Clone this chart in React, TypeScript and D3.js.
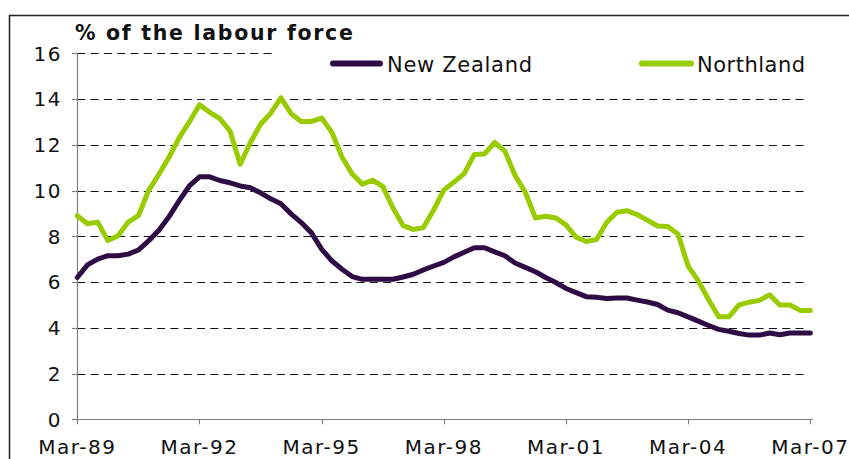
import React from "react";
import * as d3 from "d3";

const periods: string[] = Array.from({ length: 73 }, (_, i) => {
  const year = 1989 + Math.floor(i / 4);
  const m = ["Mar", "Jun", "Sep", "Dec"][i % 4];
  return `${m}-${String(year % 100).padStart(2, "0")}`;
});

const tickLabels = ["Mar-89", "Mar-92", "Mar-95", "Mar-98", "Mar-01", "Mar-04", "Mar-07"];
const yTicks = [0, 2, 4, 6, 8, 10, 12, 14, 16];

const newZealand = [
  6.2, 6.75, 7.0, 7.15, 7.15, 7.22, 7.4, 7.8, 8.25, 8.85, 9.55, 10.2, 10.6,
  10.6, 10.44, 10.34, 10.2, 10.12, 9.9, 9.64, 9.42, 8.98, 8.6, 8.15, 7.44,
  6.93, 6.56, 6.24, 6.12, 6.12, 6.12, 6.12, 6.22, 6.34, 6.53, 6.7, 6.86,
  7.1, 7.3, 7.5, 7.5, 7.32, 7.15, 6.83, 6.64, 6.45, 6.2, 5.98, 5.72, 5.54,
  5.36, 5.34, 5.28, 5.3, 5.3, 5.21, 5.13, 5.02, 4.77, 4.66, 4.48, 4.29, 4.1,
  3.93, 3.85, 3.75, 3.68, 3.68, 3.77, 3.7, 3.77, 3.77, 3.77,
];

const northland = [
  8.9, 8.55, 8.62, 7.82, 8.02, 8.62, 8.9, 10.0, 10.7, 11.45, 12.3, 13.0,
  13.75, 13.42, 13.15, 12.6, 11.15, 12.1, 12.9, 13.38, 14.05, 13.36, 13.02,
  13.02, 13.17, 12.55, 11.47, 10.72, 10.28, 10.45, 10.18, 9.25, 8.47, 8.3,
  8.38, 9.15, 10.02, 10.37, 10.74, 11.58, 11.6, 12.1, 11.72, 10.66, 9.93,
  8.8, 8.88, 8.8, 8.5, 7.96, 7.77, 7.86, 8.6, 9.05, 9.12, 8.95, 8.7, 8.45,
  8.43, 8.1, 6.7, 6.05, 5.24, 4.48, 4.48, 5.0, 5.12, 5.2, 5.44, 5.0, 5.0,
  4.76, 4.76,
];

const W = 849;
const H = 459;
const font = "'DejaVu Sans', Verdana, sans-serif";

export default function App() {
  const x = d3.scaleLinear().domain([0, periods.length - 1]).range([77.3, 810.3]);
  const y = d3.scaleLinear().domain([0, 16]).range([419.3, 53.3]);

  const line = d3
    .line<number>()
    .x((_, i) => x(i))
    .y((d) => y(d));

  const axisColor = "#808080";
  const nzColor = "#2f0b45";
  const nlColor = "#99cc00";

  return (
    <svg
      width={W}
      height={H}
      viewBox={`0 0 ${W} ${H}`}
      style={{ position: "absolute", left: 0, top: 0, background: "#fff" }}
    >
      <rect x={0} y={0} width={W} height={H} fill="#fff" />
      {/* outer frame */}
      <rect x={9.5} y={15.5} width={W + 20} height={H + 20} fill="none" stroke="#222" strokeWidth={1.5} />

      {/* gridlines */}
      {yTicks
        .filter((t) => t > 0)
        .map((t) => (
          <line
            key={`g${t}`}
            x1={x(0)}
            x2={808}
            y1={Math.round(y(t)) + 0.5}
            y2={Math.round(y(t)) + 0.5}
            stroke="#111"
            strokeWidth={1}
            strokeDasharray="8 5.3"
          />
        ))}

      {/* legend background */}
      <rect x={272} y={42} width={560} height={40} fill="#fff" />

      {/* axes */}
      <line x1={Math.round(x(0)) + 0.5} x2={Math.round(x(0)) + 0.5} y1={y(16)} y2={y(0)} stroke={axisColor} strokeWidth={1.2} />
      <line x1={x(0)} x2={813} y1={Math.round(y(0)) + 0.5} y2={Math.round(y(0)) + 0.5} stroke={axisColor} strokeWidth={1.2} />
      {yTicks.map((t) => (
        <g key={`yt${t}`}>
          <line x1={72} x2={x(0)} y1={Math.round(y(t)) + 0.5} y2={Math.round(y(t)) + 0.5} stroke={axisColor} strokeWidth={1.2} />
          <text
            x={62}
            y={y(t)}
            dy="0.36em"
            textAnchor="end"
            fontFamily={font}
            fontSize={20}
            letterSpacing={1.5}
            fill="#111"
          >
            {t}
          </text>
        </g>
      ))}
      {tickLabels.map((lab, k) => {
        const i = k * 12;
        return (
          <g key={lab}>
            <line x1={Math.round(x(i)) + 0.5} x2={Math.round(x(i)) + 0.5} y1={y(0)} y2={y(0) + 5} stroke={axisColor} strokeWidth={1.2} />
            <text
              x={x(i)}
              y={454}
              textAnchor="middle"
              fontFamily={font}
              fontSize={20}
              letterSpacing={1.5}
              fill="#111"
            >
              {lab}
            </text>
          </g>
        );
      })}

      {/* series */}
      <path d={line(northland) || ""} fill="none" stroke={nlColor} strokeWidth={5} strokeLinejoin="round" strokeLinecap="round" />
      <path d={line(newZealand) || ""} fill="none" stroke={nzColor} strokeWidth={5} strokeLinejoin="round" strokeLinecap="round" />

      {/* title */}
      <text x={75} y={40} fontFamily={font} fontWeight="bold" fontSize={20.5} letterSpacing={1.7} fill="#111">
        % of the labour force
      </text>

      {/* legend */}
      <line x1={333} x2={380} y1={63.5} y2={63.5} stroke={nzColor} strokeWidth={6} strokeLinecap="round" />
      <text x={387} y={72} fontFamily={font} fontSize={21} letterSpacing={0.7} fill="#111">
        New Zealand
      </text>
      <line x1={642} x2={691} y1={63.5} y2={63.5} stroke={nlColor} strokeWidth={6} strokeLinecap="round" />
      <text x={697} y={72} fontFamily={font} fontSize={21} letterSpacing={0.5} fill="#111">
        Northland
      </text>
    </svg>
  );
}
